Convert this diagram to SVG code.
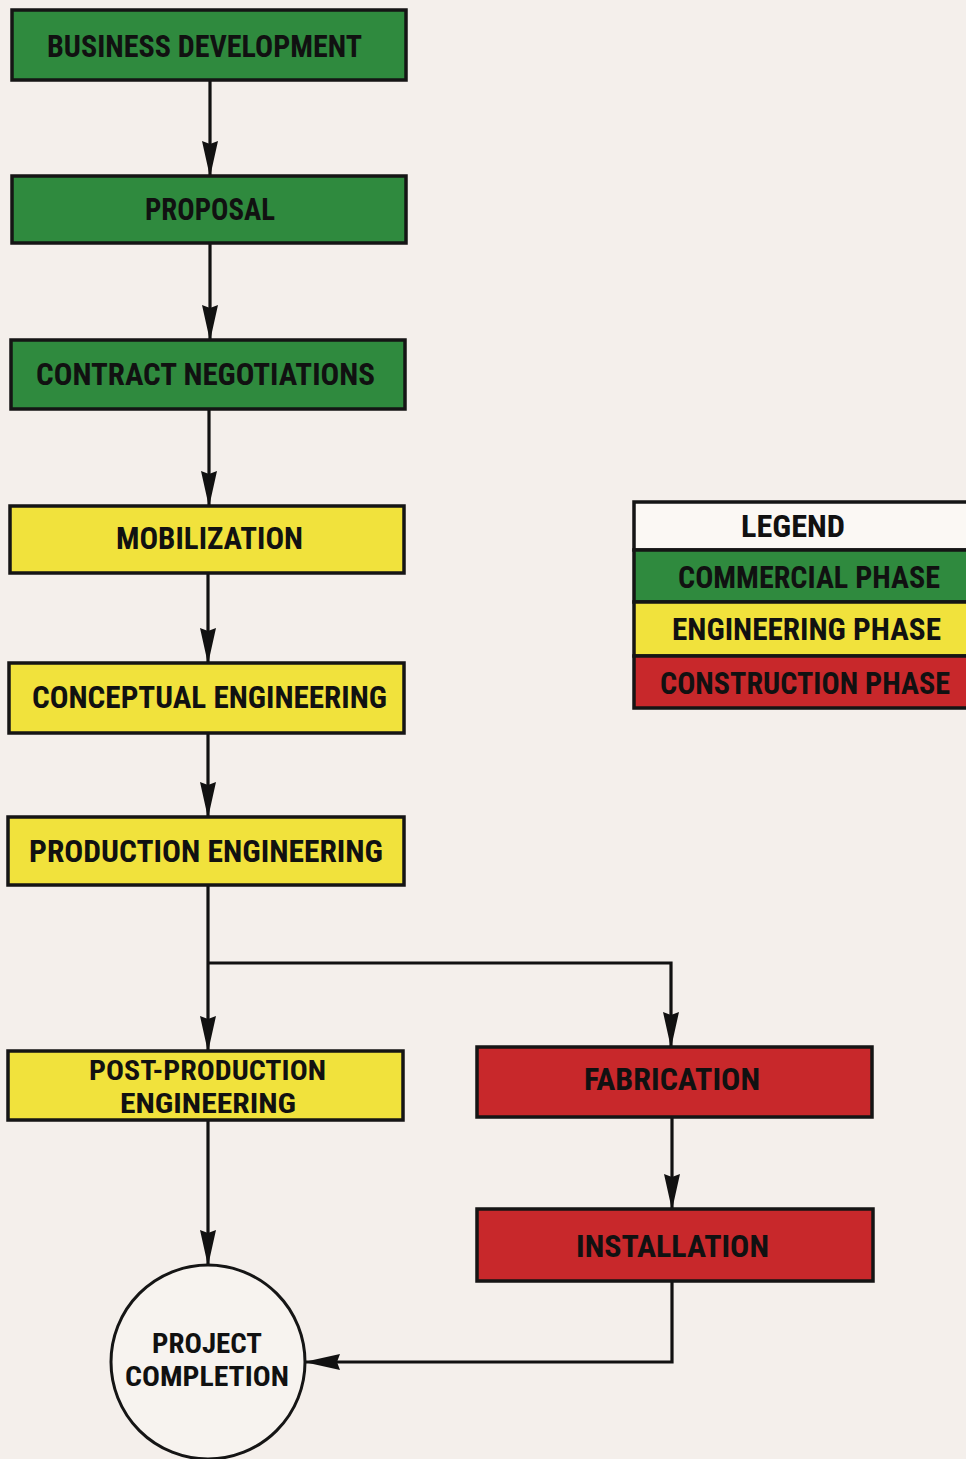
<svg xmlns="http://www.w3.org/2000/svg" width="966" height="1459" viewBox="0 0 966 1459">
<defs>
<marker id="arr" viewBox="0 0 36 16" markerWidth="36" markerHeight="16" refX="35" refY="8" orient="auto" markerUnits="userSpaceOnUse">
<path d="M0,0 L36,8 L0,16 L3,8 Z" fill="#111"/>
</marker>
<style>
.box{stroke:#151515;stroke-width:3.5}
.g{fill:#2f8a3e}
.y{fill:#f1e23c}
.r{fill:#c8282b}
.w{fill:#fbf8f4}
.t{font-family:"Liberation Sans Narrow","Roboto Condensed","DejaVu Sans Condensed","Liberation Sans",sans-serif;font-weight:bold;font-size:31px;fill:#111;text-anchor:start}
.s{font-size:28px}
.c{fill:none;stroke:#111;stroke-width:3.2}
</style>
</defs>
<rect x="0" y="0" width="966" height="1459" fill="#f4efeb"/>

<g id="connectors">
<line class="c" x1="210" y1="80" x2="210" y2="176" marker-end="url(#arr)"/>
<line class="c" x1="210" y1="243" x2="210" y2="340" marker-end="url(#arr)"/>
<line class="c" x1="209" y1="409" x2="209" y2="506" marker-end="url(#arr)"/>
<line class="c" x1="208" y1="573" x2="208" y2="663" marker-end="url(#arr)"/>
<line class="c" x1="208" y1="733" x2="208" y2="817" marker-end="url(#arr)"/>
<line class="c" x1="208" y1="885" x2="208" y2="1051" marker-end="url(#arr)"/>
<polyline class="c" points="208,963 671,963 671,1047" marker-end="url(#arr)"/>
<line class="c" x1="672" y1="1117" x2="672" y2="1209" marker-end="url(#arr)"/>
<line class="c" x1="208" y1="1120" x2="208" y2="1265" marker-end="url(#arr)"/>
<polyline class="c" points="672,1281 672,1362 305,1362" marker-end="url(#arr)"/>
</g>

<g id="business-development">
<rect class="box g" x="12" y="10" width="394" height="70"/>
<text class="t" x="47" y="57" textLength="315" lengthAdjust="spacingAndGlyphs">BUSINESS DEVELOPMENT</text>
</g>
<g id="proposal">
<rect class="box g" x="12" y="176" width="394" height="67"/>
<text class="t" x="145" y="220" textLength="130" lengthAdjust="spacingAndGlyphs">PROPOSAL</text>
</g>
<g id="contract-negotiations">
<rect class="box g" x="11" y="340" width="394" height="69"/>
<text class="t" x="36" y="385" textLength="339" lengthAdjust="spacingAndGlyphs">CONTRACT NEGOTIATIONS</text>
</g>
<g id="mobilization">
<rect class="box y" x="10" y="506" width="394" height="67"/>
<text class="t" x="116" y="549" textLength="187" lengthAdjust="spacingAndGlyphs">MOBILIZATION</text>
</g>
<g id="conceptual-engineering">
<rect class="box y" x="9" y="663" width="395" height="70"/>
<text class="t" x="32" y="708" textLength="355" lengthAdjust="spacingAndGlyphs">CONCEPTUAL ENGINEERING</text>
</g>
<g id="production-engineering">
<rect class="box y" x="8" y="817" width="396" height="68"/>
<text class="t" x="29" y="862" textLength="354" lengthAdjust="spacingAndGlyphs">PRODUCTION ENGINEERING</text>
</g>
<g id="post-production-engineering">
<rect class="box y" x="8" y="1051" width="395" height="69"/>
<text class="t s" x="89" y="1080" textLength="237" lengthAdjust="spacingAndGlyphs">POST-PRODUCTION</text>
<text class="t s" x="120" y="1113" textLength="176" lengthAdjust="spacingAndGlyphs">ENGINEERING</text>
</g>
<g id="fabrication">
<rect class="box r" x="477" y="1047" width="395" height="70"/>
<text class="t" x="584" y="1090" textLength="176" lengthAdjust="spacingAndGlyphs">FABRICATION</text>
</g>
<g id="installation">
<rect class="box r" x="477" y="1209" width="396" height="72"/>
<text class="t" x="576" y="1257" textLength="193" lengthAdjust="spacingAndGlyphs">INSTALLATION</text>
</g>
<g id="project-completion">
<circle cx="208" cy="1362" r="97" fill="#f7f3ef" stroke="#151515" stroke-width="3"/>
<text class="t s" x="152" y="1353" textLength="110" lengthAdjust="spacingAndGlyphs">PROJECT</text>
<text class="t s" x="125" y="1386" textLength="164" lengthAdjust="spacingAndGlyphs">COMPLETION</text>
</g>

<g id="legend">
<rect class="box w" x="634" y="502" width="340" height="48"/>
<rect class="box g" x="634" y="550" width="340" height="52"/>
<rect class="box y" x="634" y="602" width="340" height="54"/>
<rect class="box r" x="634" y="656" width="340" height="52"/>
<text class="t" x="741" y="537" textLength="104" lengthAdjust="spacingAndGlyphs">LEGEND</text>
<text class="t" x="678" y="588" textLength="262" lengthAdjust="spacingAndGlyphs">COMMERCIAL PHASE</text>
<text class="t" x="672" y="640" textLength="269" lengthAdjust="spacingAndGlyphs">ENGINEERING PHASE</text>
<text class="t" x="660" y="694" textLength="290" lengthAdjust="spacingAndGlyphs">CONSTRUCTION PHASE</text>
</g>
</svg>
